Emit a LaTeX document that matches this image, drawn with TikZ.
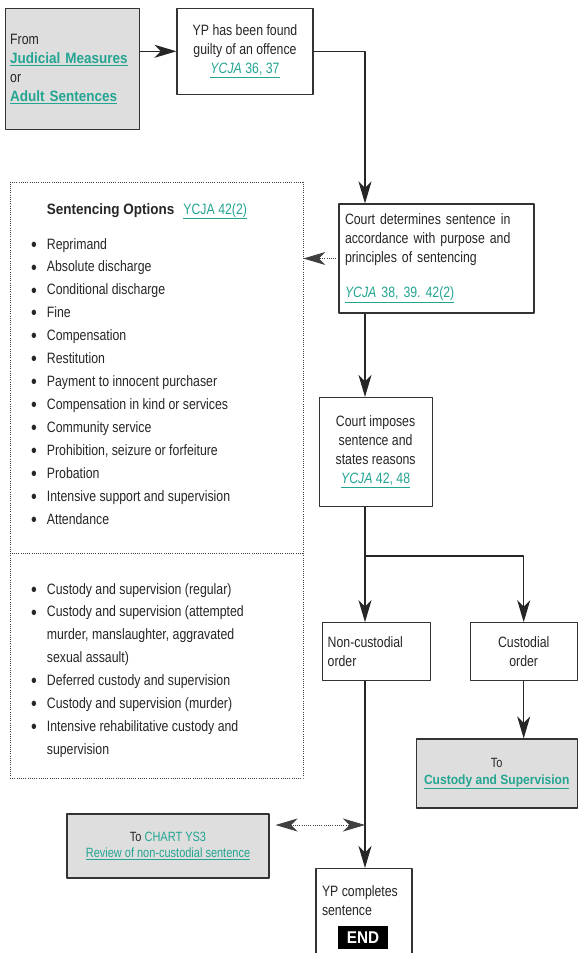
\documentclass[tikz,border=0pt]{standalone}
\usepackage{fontspec}
\setmainfont{Liberation Sans}[FakeStretch=0.82]
\newfontfamily\condbold{Liberation Sans}[FakeStretch=0.9]
\usetikzlibrary{arrows.meta}
\definecolor{linkc}{HTML}{23A592}
\definecolor{boxgray}{HTML}{DEDEDE}
\newcommand\lnk[1]{\textcolor{linkc}{\underline{#1}}}
\newcommand\blnk[1]{\textcolor{linkc}{\underline{\condbold\bfseries #1}}}
\newcommand\dotmark{\llap{\raisebox{-2.2pt}{\fontsize{20}{20}\selectfont\textbullet}\hspace{10pt}}}
\frenchspacing

\begin{document}
\begin{tikzpicture}[x=1pt,y=-1pt,>={Stealth[length=22pt,width=13pt,inset=6.5pt]},
	line join=round, font=\fontsize{15}{19}\selectfont, text=black!85,
	box/.style={draw=black!80,line width=1.1pt,fill=white,inner sep=5pt},
	grey/.style={box,fill=boxgray},
	flow/.style={draw=black!85,line width=1.1pt},
	dots/.style={draw=black!75,line width=0.8pt,dash pattern=on 0.8pt off 1.4pt},
	item/.style={anchor=base west,inner sep=0pt}]
	\useasboundingbox (0,0) rectangle (578,953);
	\clip (0,0) rectangle (578,953);
	\def\ys{22.92} % line step of the lists
	\coordinate (spine) at (365,0);
	\coordinate (split) at (365,556);
	\coordinate (mid) at (0,553);
	\coordinate (rev) at (365,825);
	% boxes
	\node[grey,text width=124pt,minimum height=121pt,align=left] (from) at (72.2,68.8)
		{From\\ \blnk{Judicial Measures}\\ or\\ \blnk{Adult Sentences}};
	\node[box,minimum width=136pt,minimum height=86pt,align=center] (guilty) at (245,51.3)
		{YP has been found\\ guilty of an offence\\ \lnk{\textit{YCJA} 36, 37}};
	\node[box,text width=183pt,inner sep=6pt,minimum height=109pt,align=left] (court) at (436.5,258.5)
		{Court determines sentence in\\ accordance with purpose and\\ principles of sentencing\\[16pt] \lnk{\textit{YCJA} 38, 39. 42(2)}};
	\node[box,minimum width=113pt,minimum height=109pt,align=center] (imp) at (375.6,452)
		{Court imposes\\ sentence and\\ states reasons\\ \lnk{\textit{YCJA} 42, 48}};
	\node[box,text width=98pt,minimum height=58pt,align=left] (noncust) at (376.7,651.7) {Non-custodial\\ order};
	\node[box,minimum width=107pt,minimum height=58pt,align=center] (cust) at (523.7,651.7) {Custodial\\ order};
	\node[grey,minimum width=161pt,minimum height=69pt,align=center,font=\fontsize{13.4}{17}\selectfont] (tocust) at (496.7,773.5)
		{To\\ \blnk{Custody and Supervision}};
	\node[grey,minimum width=202pt,minimum height=64pt,align=center,font=\fontsize{13.4}{16}\selectfont] (ys3) at (168,846)
		{To \textcolor{linkc}{CHART YS3}\\ \lnk{Review of non-custodial sentence}};
	\node[box,inner sep=6pt,anchor=north] (done) at (364,868)
		{\parbox[c][88pt][t]{84pt}{\rule{0pt}{22pt}YP completes\\ sentence}};
	\node[fill=black,text=white,inner sep=0pt,minimum width=50pt,minimum height=23pt,font=\fontsize{17}{19}\condbold\bfseries] (end) at (363,937.5) {END};
	% sentencing options
	\node[dots,minimum width=293pt,minimum height=596pt] (opts) at (156.5,480) {};
	\draw[dots] (opts.west |- mid) -- (opts.east |- mid);
	\node[item] (head) at (46.7,214) {{\condbold\bfseries Sentencing Options}\hspace{9pt}\lnk{YCJA 42(2)}};
	\foreach \t [count=\i from 0] in {Reprimand, Absolute discharge, Conditional discharge, Fine, Compensation,
		Restitution, Payment to innocent purchaser, Compensation in kind or services, Community service,
		{Prohibition, seizure or forfeiture}, Probation, Intensive support and supervision, Attendance}
		\node[item] (s\i) at (46.7,{249+\ys*\i}) {\dotmark\t};
	\foreach \b/\t [count=\i from 0] in {1/{Custody and supervision (regular)}, 1/{Custody and supervision (attempted},
		0/{murder, manslaughter, aggravated}, 0/{sexual assault)}, 1/{Deferred custody and supervision},
		1/{Custody and supervision (murder)}, 1/{Intensive rehabilitative custody and}, 0/{supervision}}
		\node[item] (c\i) at (46.7,{594+22.86*\i}) {\ifnum\b=1 \dotmark\fi\t};
	% connectors
	\draw[flow,->] (from.east |- guilty.west) -- (guilty.west);
	\draw[flow,->] (guilty.east) -| (spine |- court.north);
	\draw[dots,->] (court.west) -- (opts.east |- court.west);
	\draw[flow,->] (spine |- court.south) -- (spine |- imp.north);
	\draw[flow,->] (spine |- imp.south) -- (spine |- noncust.north);
	\draw[flow,->] (split) -| (cust.north);
	\draw[flow,->] (cust.south) -- (cust.south |- tocust.north);
	\draw[flow,->] (spine |- noncust.south) -- (spine |- done.north);
	\draw[dots,<->,shorten <=6pt] (ys3.east |- rev) -- (rev);
\end{tikzpicture}
\end{document}
